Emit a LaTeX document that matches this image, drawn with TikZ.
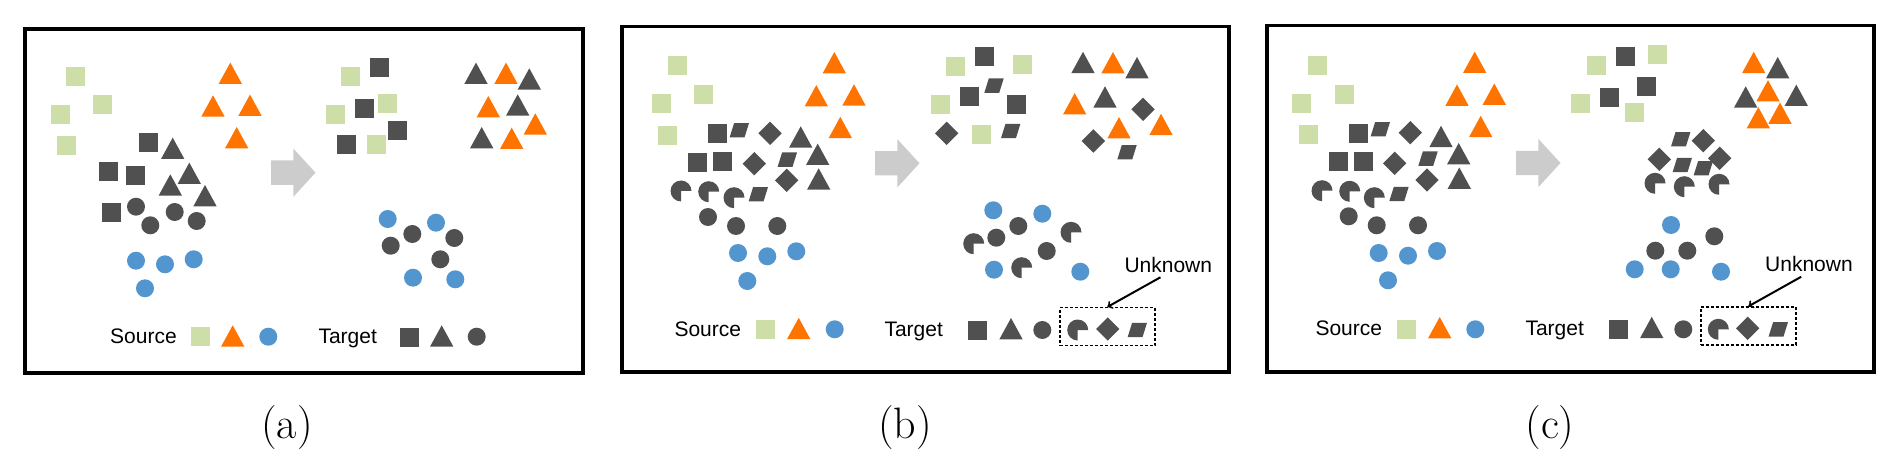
\documentclass[tikz,border=0pt]{standalone}
\usepackage{fontspec}
\usepackage{tikz}
\usetikzlibrary{arrows}
\newfontfamily\legendfont{Liberation Sans}
\definecolor{srcgreen}{RGB}{205,222,168}
\definecolor{srcorange}{RGB}{255,115,0}
\definecolor{srcblue}{RGB}{83,150,207}
\definecolor{tgtgray}{RGB}{80,80,80}
\definecolor{arrowgray}{RGB}{204,204,204}
\tikzset{
  sqr/.pic={\fill (-9.5,-9.5) rectangle (9.5,9.5);},
  tri/.pic={\fill (0,-10.7) -- (11.7,10.7) -- (-11.7,10.7) -- cycle;},
  dot/.pic={\fill (0,0) circle (9);},
  pac/.pic={\fill (0,0) -- (10.5,0) arc[start angle=0,end angle=-270,radius=10.5] -- cycle;},
  dia/.pic={\fill (0,-11.7) -- (11.7,0) -- (0,11.7) -- (-11.7,0) -- cycle;},
  para/.pic={\fill (-5.2,-7.2) -- (9.7,-7.2) -- (5.2,7.2) -- (-9.7,7.2) -- cycle;},
  blk/.pic={\fill (0,-12.2) -- (22.3,-12.2) -- (22.3,-24.2) -- (44.5,0) -- (22.3,24.2) -- (22.3,12.2) -- (0,12.2) -- cycle;},
  panelbox/.style={draw=black, line width=3.5pt},
  legendtext/.style={font=\legendfont\fontsize{21}{25}\selectfont, inner sep=0pt, anchor=base west},
  subcaption/.style={font=\fontsize{44}{50}\selectfont, anchor=base},
  unknownbox/.style={draw=black, dash pattern=on 3pt off 2pt, line width=1.3pt, minimum width=95pt, minimum height=38pt, inner sep=0pt}
}
\begin{document}
\begin{tikzpicture}[x=1pt,y=-1pt]
  \useasboundingbox (0,0) rectangle (1899,465);
  \draw [panelbox] (25,29) rectangle (583,373);
  \draw [panelbox] (622,26.5) rectangle (1229,372);
  \draw [panelbox] (1267,25.5) rectangle (1874,372);
  \pic [color=arrowgray] at (271,172.7) {blk};
  \pic [color=arrowgray] at (875,163.3) {blk};
  \pic [color=arrowgray] at (1516,163) {blk};
  \foreach \x/\y in {75.3/76.3, 102.3/104.3, 60.3/114.3, 66.3/145.3, 350.3/76.3, 387.3/103.3, 335.3/114.3, 376.3/144.3, 200.3/336,
    677.3/65.3, 703.3/94.3, 661.3/103.3, 667.3/135.3, 955.3/66.3, 1022.3/64.3, 940.3/104.3, 981.7/134.3, 765.3/329.3,
    1317.3/65.3, 1344.3/94.3, 1301.3/103.3, 1308.3/134.3, 1596/65.3, 1657.3/54.3, 1580.7/103.3, 1634/112.3, 1406.3/329.3}
    \pic [color=srcgreen] at (\x,\y) {sqr};
  \foreach \x/\y in {148.3/142.3, 108.3/171.3, 135.3/175.3, 111.3/212.3, 379.3/67.3, 364.3/108.3, 397.3/130.3, 346.3/144.3, 409.3/337,
    717.3/133.7, 697/162.3, 722.3/161.3, 984.3/56.3, 969.3/97, 1016.3/105, 977.7/330,
    1358.3/133.3, 1338.3/161.3, 1363.3/161.3, 1625.3/56.3, 1646.3/86.3, 1609.3/97.3, 1618.3/329.3}
    \pic [color=tgtgray] at (\x,\y) {sqr};
  \foreach \x/\y in {172.7/148.3, 189.3/173.3, 170.3/185, 205/195.7, 476/73.3, 529.3/79, 517.7/105, 481.7/137.7, 441.7/336,
    800.7/137, 817.7/154.3, 818.7/179, 1083/62.5, 1137/67.7, 1105/97, 1011/328.7,
    1441/136.5, 1458.7/153.7, 1459.3/178.2, 1777.7/67.7, 1745.7/97, 1796.3/95.3, 1651.7/327.5}
    \pic [color=tgtgray] at (\x,\y) {tri};
  \foreach \x/\y in {230.3/73.3, 213/106, 250/105.3, 236.7/137.7, 506/73.3, 488.3/106.7, 535.3/124, 511.7/138.3, 232.7/336,
    834.3/62.7, 816.3/95.8, 854/95, 840.3/127.5, 1113/62.7, 1074.7/103.8, 1119/127.8, 1161/124.5, 798.7/328.5,
    1474.7/62.3, 1457/95.2, 1494.3/94.2, 1480.7/126.5, 1753.7/62.5, 1768/90.8, 1758.3/117.8, 1780/113.2, 1439.7/327.7}
    \pic [color=srcorange] at (\x,\y) {tri};
  \foreach \x/\y in {739.3/130.3, 787.3/159.7, 758.3/194.3, 994/85.7, 1010.7/131, 1127/152.3, 1137.3/330,
    1380.3/129.3, 1428/158.7, 1399/194, 1680.7/139.3, 1682.3/165, 1703.3/168.3, 1778.3/329.3}
    \pic [color=tgtgray] at (\x,\y) {para};
  \foreach \x/\y in {770/133.3, 754.3/163.7, 786.7/180.3, 946.7/133.3, 1143/109.3, 1093.3/141, 1107.7/329,
    1410.3/132.7, 1394.7/163.3, 1427/180, 1703.3/140.7, 1659.3/159.3, 1719.7/158.3, 1747.7/328.3}
    \pic [color=tgtgray] at (\x,\y) {dia};
  \foreach \x/\y in {681/191, 708.7/191.7, 734/197.7, 973.7/243.7, 1071/232.3, 1021.7/267.7, 1077.7/330,
    1322/190.7, 1349.7/191.3, 1374.3/197.7, 1655/183.3, 1684.3/186.7, 1719/184.3, 1718.3/329.3}
    \pic [color=tgtgray] at (\x,\y) {pac};
  \foreach \x/\y in {136/206.7, 150.3/225.3, 174.7/212, 196.7/221, 412.3/234, 454.3/238, 390.7/245.7, 440.3/259.3, 476.7/336.7,
    708/217, 736/226, 777.3/226, 1018.3/226, 996.3/237.7, 1046.7/251, 1042.3/330,
    1348.7/216.3, 1376.7/225.3, 1418/225.3, 1714.3/236.3, 1655.3/250.7, 1687.3/250.7, 1683.3/329.3}
    \pic [color=tgtgray] at (\x,\y) {dot};
  \foreach \x/\y in {136/260.7, 165/264.3, 193.7/259.3, 145/288.3, 387.7/219, 436/222.7, 413/277.7, 455.3/279.3, 268.3/336.7,
    738/253, 767.3/256.3, 796.3/251.3, 747.3/281, 993.3/210.3, 1042.3/213.7, 994/269.7, 1080.3/271.7, 834.7/329.3,
    1378.7/253, 1408/255.7, 1437/251, 1388/280.3, 1671/225, 1634.7/269.3, 1670.7/269.3, 1721/271.7, 1475.3/329.3}
    \pic [color=srcblue] at (\x,\y) {dot};
  \node [legendtext] (srcA) at (110,343) {Source};
  \node [legendtext] (tgtA) at (318.3,343) {Target};
  \node [legendtext] (srcB) at (674.3,336) {Source};
  \node [legendtext] (tgtB) at (884.3,336) {Target};
  \node [legendtext] (unkB) at (1124.3,272.5) {Unknown};
  \node [legendtext] (srcC) at (1315.3,335) {Source};
  \node [legendtext] (tgtC) at (1525.3,335.5) {Target};
  \node [legendtext] (unkC) at (1765,272) {Unknown};
  \node [unknownbox] (boxB) at (1107.4,326.6) {};
  \node [unknownbox] (boxC) at (1748.4,326) {};
  \draw [->, line width=2pt, shorten <=9pt] (unkB.south) -- (boxB.north);
  \draw [->, line width=2pt, shorten <=9pt] (unkC.south) -- (boxC.north);
  \node [subcaption] (capA) at (287,438) {(a)};
  \node [subcaption] (capB) at (905,438) {(b)};
  \node [subcaption] (capC) at (1550,438) {(c)};
\end{tikzpicture}
\end{document}
